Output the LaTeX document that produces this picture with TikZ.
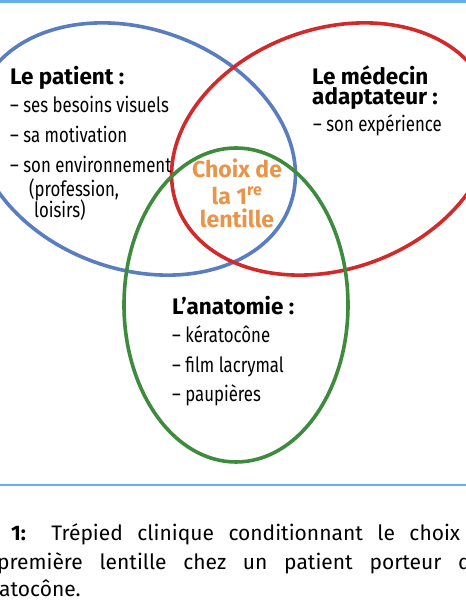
\documentclass[tikz,border=0pt]{standalone}
\usepackage{fontspec}
\setmainfont{Fira Sans}
\newfontfamily\condfont[FakeStretch=0.8]{Fira Sans}
\usetikzlibrary{positioning}
\definecolor{vennblue}{HTML}{5A7DC0}
\definecolor{vennred}{HTML}{D22A2A}
\definecolor{venngreen}{HTML}{3E8B3E}
\definecolor{vennorange}{HTML}{E8954A}
\definecolor{rulecolor}{HTML}{63AEEC}

\begin{document}
\begin{tikzpicture}[x=1pt, y=1pt,
    ring/.style={line width=3.6pt},
    title/.style={anchor=base west, inner sep=0pt,
      font=\fontsize{22.5}{20}\selectfont\bfseries},
    item/.style={anchor=base west, inner sep=0pt,
      font=\fontsize{21}{23}\condfont},
    choice/.style={anchor=base, inner sep=0pt, text=vennorange,
      font=\fontsize{23}{25}\selectfont\bfseries},
    caption/.style={anchor=base west, inner sep=0pt,
      font=\fontsize{21}{23}\selectfont}]
  \useasboundingbox (0,0) rectangle (466,600);
  \clip (0,0) rectangle (466,600);

  % Rules
  \draw[rulecolor, line width=3pt] (0,598) -- (466,598);
  \draw[rulecolor, line width=2pt] (0,115) -- (466,115);

  % Three rings
  \draw[ring, vennblue, rotate around={-20:(135,451)}]
    (135,451) ellipse [x radius=165pt, y radius=120pt];
  \draw[ring, vennred, rotate around={20:(332,451)}]
    (332,451) ellipse [x radius=165pt, y radius=120pt];
  \draw[ring, venngreen]
    (236,295) ellipse [x radius=112pt, y radius=157pt];

  % Le patient
  \node[title] (patient) at (10,515) {Le patient :};
  \node[item] (p1) at (10,487) {– ses besoins visuels};
  \node[item] (p2) at (10,457) {– sa motivation};
  \node[item] (p3) at (10,427) {– son environnement};
  \node[item] (p4) at (29,403) {(profession,};
  \node[item] (p5) at (34,382) {loisirs)};

  % Le medecin
  \node[title, align=left] (medecin) at (312,495) {Le médecin\\ adaptateur :};
  \node[item] (m1) at (313,468) {– son expérience};

  % Centre
  \node[choice] (choix1) at (237,422) {Choix de};
  \node[choice] (choix2) at (237,395) {la 1\textsuperscript{re}};
  \node[choice] (choix3) at (237,372) {lentille};

  % L'anatomie
  \node[title] (anatomie) at (172,285) {L’anatomie :};
  \node[item] (a1) at (172,257) {– kératocône};
  \node[item] (a2) at (172,227) {– film lacrymal};
  \node[item] (a3) at (172,198) {– paupières};

  % Caption
  \node[caption] (cap1) at (11,59)
    {\makebox[449pt][s]{\textbf{1:} Trépied clinique conditionnant le choix}};
  \node[caption] (cap2) at (-3,30)
    {\makebox[485pt][s]{première lentille chez un patient porteur de}};
  \node[caption] (cap3) at (-1,3) {\llap{kér}atocône.};
\end{tikzpicture}
\end{document}
